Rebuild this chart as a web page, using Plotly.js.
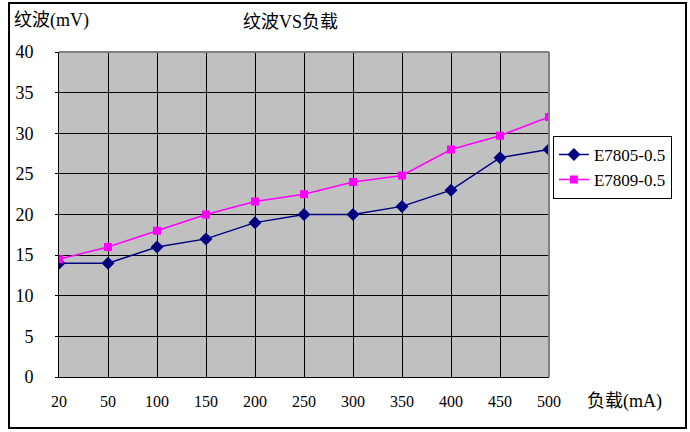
<!DOCTYPE html>
<html>
<head>
<meta charset="utf-8">
<script src="https://cdn.plot.ly/plotly-3.0.1.min.js"></script>
<style>html,body{margin:0;padding:0;background:#fff;}</style>
</head>
<body>
<div id="chart" style="width:690px;height:432px;"></div>
<script>
var categories = ['20','50','100','150','200','250','300','350','400','450','500'];
var e7805 = [14, 14, 16, 17, 19, 20, 20, 21, 23, 27, 28];
var e7809 = [14.5, 16, 18, 20, 21.6, 22.5, 24, 24.8, 28, 29.7, 32];
var seriesNames = ['E7805-0.5', 'E7809-0.5'];
var yTicks = [0, 5, 10, 15, 20, 25, 30, 35, 40];

var serif = 'Liberation Serif, DejaVu Serif, serif';
var mixed = 'Liberation Serif, Noto Sans CJK SC, serif';

var traces = [
  {x: categories, y: e7805, name: seriesNames[0], type: 'scatter', mode: 'lines+markers',
   line: {color: '#000080', width: 1.5}, marker: {symbol: 'diamond', size: 10, color: '#000080'}},
  {x: categories, y: e7809, name: seriesNames[1], type: 'scatter', mode: 'lines+markers',
   line: {color: '#ff00ff', width: 1.5}, marker: {symbol: 'square', size: 8, color: '#ff00ff'}}
];

var layout = {
  width: 690, height: 432,
  margin: {l: 59, r: 141, t: 52, b: 55, autoexpand: false},
  paper_bgcolor: '#ffffff',
  plot_bgcolor: '#c0c0c0',
  showlegend: true,
  legend: {x: 1.008, y: 0.742, xanchor: 'left', yanchor: 'top',
    bgcolor: '#ffffff', bordercolor: '#000000', borderwidth: 1,
    font: {family: serif, size: 17, color: '#000'},
    tracegroupgap: 0, itemwidth: 30},
  xaxis: {type: 'category', range: [0, 10], showgrid: true, gridcolor: '#000000', gridwidth: 1,
    zeroline: false, showline: true, linecolor: '#000000', linewidth: 1, mirror: false,
    ticks: '', ticklabelstandoff: 10,
    tickfont: {family: serif, size: 16, color: '#000'}},
  yaxis: {range: [0, 40], tickvals: yTicks, showgrid: true, gridcolor: '#000000', gridwidth: 1,
    zeroline: false, showline: true, linecolor: '#000000', linewidth: 1,
    ticks: 'outside', ticklen: 3, tickcolor: '#000', ticklabelstandoff: 18,
    tickfont: {family: serif, size: 18, color: '#000'}},
  shapes: [
    {type: 'line', xref: 'paper', yref: 'paper', x0: 1, x1: 1, y0: 0, y1: 1,
     line: {color: '#808080', width: 2}},
    {type: 'line', xref: 'paper', yref: 'paper', x0: 0, x1: 1, y0: 1, y1: 1,
     line: {color: '#808080', width: 2}},
    {type: 'rect', xref: 'paper', yref: 'paper', x0: -0.102, x1: 1.2796, y0: -0.157, y1: 1.1508,
     line: {color: '#000000', width: 2}}
  ],
  annotations: [
    {text: '纹波VS负载', xref: 'paper', yref: 'paper', x: (290-59)/490, y: (377-22)/325,
     xanchor: 'center', yanchor: 'middle', showarrow: false,
     font: {family: mixed, size: 18, color: '#000'}},
    {text: '纹波(mV)', xref: 'paper', yref: 'paper', x: (12-59)/490, y: (377-20)/325,
     xanchor: 'left', yanchor: 'middle', showarrow: false,
     font: {family: mixed, size: 18, color: '#000'}},
    {text: '负载(mA)', xref: 'paper', yref: 'paper', x: (585-59)/490, y: (377-401)/325,
     xanchor: 'left', yanchor: 'middle', showarrow: false,
     font: {family: mixed, size: 18, color: '#000'}}
  ]
};

Plotly.newPlot('chart', traces, layout, {displayModeBar: false, staticPlot: true});
</script>
</body>
</html>
